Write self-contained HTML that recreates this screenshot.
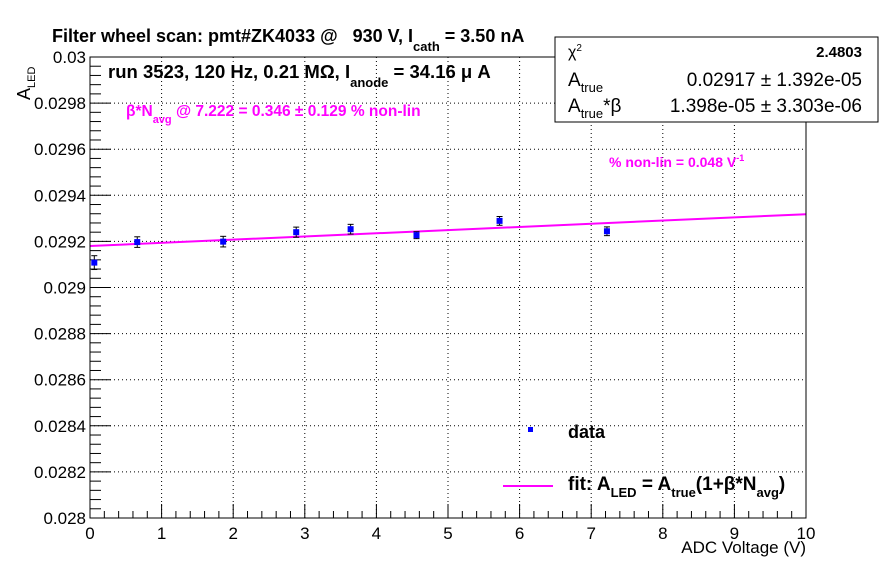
<!DOCTYPE html>
<html><head><meta charset="utf-8"><style>
body{margin:0;background:#fff}
svg{font-family:"Liberation Sans",sans-serif}
text{white-space:pre}
</style></head><body>
<svg id="chart" width="896" height="572" viewBox="0 0 896 572" xmlns="http://www.w3.org/2000/svg">
<rect width="896" height="572" fill="#fff"/>
<g id="grid"></g>
<g id="axes"></g>
<g id="fitg"></g>
<g id="pts"></g>
<rect x="90" y="57" width="716" height="461" fill="none" stroke="#000" stroke-width="1"/>
<text x="52" y="42" font-size="18" font-weight="bold">Filter wheel scan: pmt#ZK4033 @   930 V, I<tspan font-size="13" dy="9">cath</tspan><tspan dy="-9"> = 3.50 nA</tspan></text>
<text x="108" y="78" font-size="18.5" font-weight="bold">run 3523, 120 Hz, 0.21 MΩ, I<tspan font-size="13" dy="9">anode</tspan><tspan dy="-9"> = 34.16 μ A</tspan></text>
<text x="126" y="116" font-size="15.5" font-weight="bold" fill="#ff00ff">β*N<tspan font-size="11" dy="7">avg</tspan><tspan dy="-7"> @ 7.222 = 0.346 ± 0.129 % non-lin</tspan></text>
<text x="609" y="167" font-size="14" font-weight="bold" fill="#ff00ff">% non-lin = 0.048 V<tspan font-size="9" dy="-6">-1</tspan></text>
<text transform="translate(30,100) rotate(-90)" font-size="18">A<tspan font-size="11" dy="5">LED</tspan></text>
<text x="806" y="553" font-size="17" text-anchor="end">ADC Voltage (V)</text>
<g>
<rect x="555" y="37" width="323" height="85" fill="#fff" stroke="#000"/>
<text x="568" y="57" font-size="16">χ<tspan font-size="10" dy="-6">2</tspan></text>
<text x="862" y="57" font-size="15" font-weight="bold" text-anchor="end">2.4803</text>
<text x="568" y="86" font-size="19">A<tspan font-size="13" dy="6">true</tspan></text>
<text x="862" y="86" font-size="19" text-anchor="end">0.02917 ± 1.392e-05</text>
<text x="568" y="112" font-size="19">A<tspan font-size="13" dy="6">true</tspan><tspan dy="-6">*β</tspan></text>
<text x="862" y="112" font-size="19" text-anchor="end">1.398e-05 ± 3.303e-06</text>
</g>
<g>
<rect x="528" y="427" width="5" height="5" fill="#0000ff"/>
<text x="568" y="438" font-size="18" font-weight="bold">data</text>
<line x1="503" y1="486" x2="553" y2="486" stroke="#ff00ff" stroke-width="2"/>
<text x="568" y="490" font-size="19" font-weight="bold">fit: A<tspan font-size="13" dy="7">LED</tspan><tspan dy="-7"> = A</tspan><tspan font-size="13" dy="7">true</tspan><tspan dy="-7">(1+β*N</tspan><tspan font-size="13" dy="7">avg</tspan><tspan dy="-7">)</tspan></text>
</g>
</svg>
<script>
const xVals=[0.06,0.66,1.86,2.88,3.64,4.56,5.72,7.22];
const yVals=[0.029108,0.029197,0.029199,0.02924,0.029253,0.029227,0.029289,0.029244];
const yErrs=[0.00003,0.000023,0.000023,0.000022,0.000021,0.000015,0.000019,0.000019];
const fitA=[0.02918];
const fitSlope=[0.0000138];
const xTicks=[0,1,2,3,4,5,6,7,8,9,10];
const yTicks=[0.028,0.0282,0.0284,0.0286,0.0288,0.029,0.0292,0.0294,0.0296,0.0298,0.03];
const yTickLabels=["0.028","0.0282","0.0284","0.0286","0.0288","0.029","0.0292","0.0294","0.0296","0.0298","0.03"];
const X0=90,X1=806,Y0=518,Y1=57,xmin=0,xmax=10,ymin=0.028,ymax=0.03;
const sx=v=>X0+(v-xmin)/(xmax-xmin)*(X1-X0);
const sy=v=>Y0-(v-ymin)/(ymax-ymin)*(Y0-Y1);
const NS="http://www.w3.org/2000/svg";
function mk(tag,attrs,parent){const e=document.createElementNS(NS,tag);for(const k in attrs)e.setAttribute(k,attrs[k]);parent.appendChild(e);return e;}
const grid=document.getElementById('grid'),axes=document.getElementById('axes'),pts=document.getElementById('pts'),fitg=document.getElementById('fitg');
xTicks.forEach((t,i)=>{const x=sx(t);
 if(i>0&&i<xTicks.length-1){const g=mk('line',{x1:x,y1:Y0,x2:x,y2:Y1,stroke:'#000','stroke-width':1,'stroke-dasharray':'1,3'},grid);
 
 }
 mk('line',{x1:x,y1:Y0,x2:x,y2:Y0-14,stroke:'#000'},axes);
 const l=mk('text',{x:x,y:Y0+21,'font-size':17,'text-anchor':'middle'},axes);l.textContent=t;
 
 
 if(i<xTicks.length-1){for(let k=1;k<5;k++){const xm=sx(t+k*(xTicks[1]-xTicks[0])/5);mk('line',{x1:xm,y1:Y0,x2:xm,y2:Y0-7,stroke:'#000'},axes);}}
});
yTicks.forEach((t,i)=>{const y=sy(t);
 if(i>0&&i<yTicks.length-1){const g=mk('line',{x1:X0,y1:y,x2:X1,y2:y,stroke:'#000','stroke-width':1,'stroke-dasharray':'1,3'},grid);
 
 }
 mk('line',{x1:X0,y1:y,x2:X0+21,y2:y,stroke:'#000'},axes);
 const l=mk('text',{x:X0-4,y:y+6,'font-size':17,'text-anchor':'end'},axes);l.textContent=yTickLabels[i];
 
 
 if(i<yTicks.length-1){for(let k=1;k<5;k++){const ym=sy(t+k*(yTicks[1]-yTicks[0])/5);mk('line',{x1:X0,y1:ym,x2:X0+11,y2:ym,stroke:'#000'},axes);}}
});
const f=x=>fitA[0]+fitSlope[0]*x;
const fl=mk('line',{x1:sx(0),y1:sy(f(0)),x2:sx(10),y2:sy(f(10)),stroke:'#ff00ff','stroke-width':2},fitg);


xVals.forEach((xv,i)=>{const x=sx(xv),y=sy(yVals[i]),e1=sy(yVals[i]+yErrs[i]),e2=sy(yVals[i]-yErrs[i]);
 const g=mk('g',{},pts);
 
 
 mk('line',{x1:x,y1:e1,x2:x,y2:e2,stroke:'#000'},g);
 mk('line',{x1:x-3,y1:e1,x2:x+3,y2:e1,stroke:'#000'},g);
 mk('line',{x1:x-3,y1:e2,x2:x+3,y2:e2,stroke:'#000'},g);
 mk('rect',{x:x-3,y:y-3,width:6,height:6,fill:'#0000ff'},g);
});
</script>
</body></html>
